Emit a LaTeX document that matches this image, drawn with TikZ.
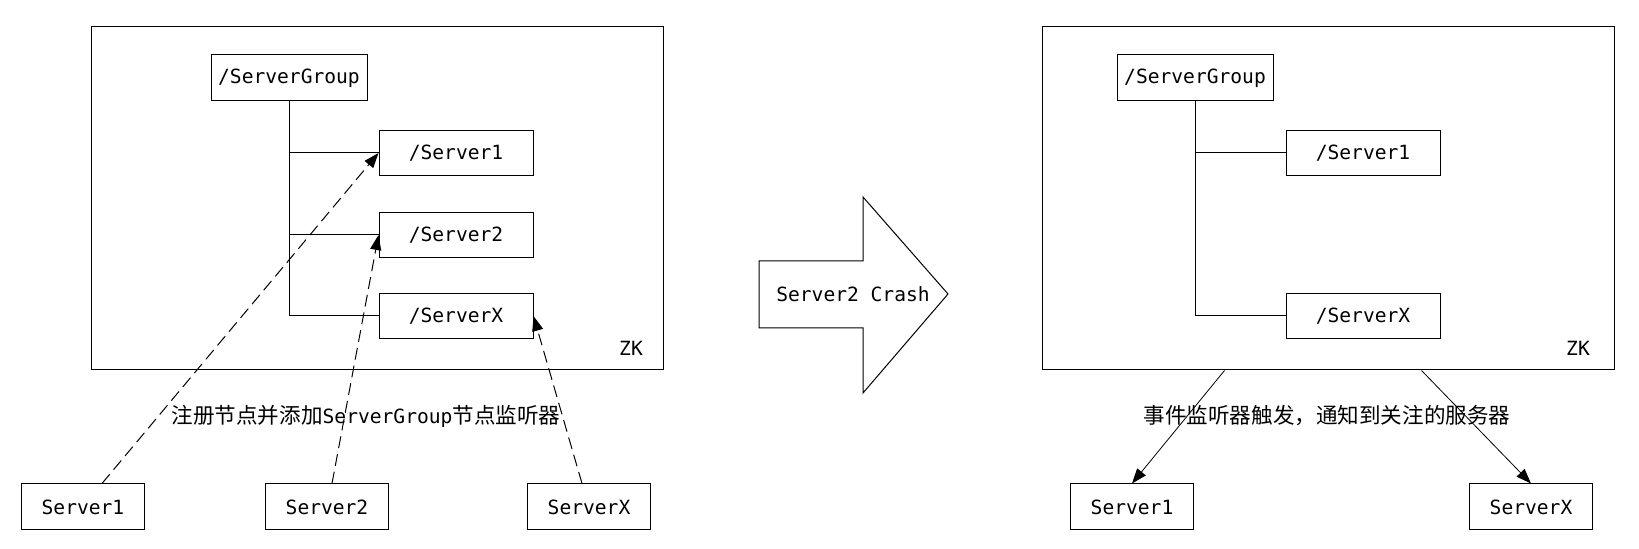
\documentclass[tikz,border=0pt]{standalone}
\usepackage{fontspec}
\setmonofont{DejaVu Sans Mono}
\newfontfamily\cjk{Noto Sans CJK SC}[Scale=1.1]
\usetikzlibrary{arrows.meta}
\usetikzlibrary{positioning}
\tikzset{zkbox/.style = {draw, line width=0.5pt, minimum width=286pt, minimum height=171.5pt},
         groupbox/.style = {draw, line width=0.5pt, minimum width=78pt, minimum height=23pt},
         znodebox/.style = {draw, line width=0.5pt, minimum width=77pt, minimum height=22.5pt},
         serverbox/.style = {draw, line width=0.5pt, minimum width=61.5pt, minimum height=23pt},
         tree/.style = {line width=0.5pt},
         regarrow/.style = {-{Triangle[length=7.5pt,width=5.5pt]}, line width=0.5pt, dash pattern=on 6pt off 3pt},
         notifyarrow/.style = {-{Triangle[length=7.5pt,width=5.5pt]}, line width=0.4pt}}

\begin{document}
\begin{tikzpicture}[x=0.5pt, y=-0.5pt, font=\ttfamily\fontsize{9.8pt}{12pt}\selectfont]
    \useasboundingbox (0,0) rectangle (1639,549);

    % before
    \node[zkbox] (zk1) at (377,198.5) {};
    \node (zk1l) at (631,348) {ZK};
    \node[groupbox] (sg1) at (289,78) {/ServerGroup};
    \node[znodebox] (zs11) at (456,153) {/Server1};
    \node[znodebox] (zs12) at (456,235) {/Server2};
    \node[znodebox] (zs1x) at (456,316) {/ServerX};
    \draw[tree] (sg1.south) |- (zs1x.west);
    \draw[tree] (sg1.south |- zs11.west) -- (zs11.west);
    \draw[tree] (sg1.south |- zs12.west) -- (zs12.west);

    \node[serverbox] (c11) at (83,507) {Server1};
    \node[serverbox] (c12) at (327,507) {Server2};
    \node[serverbox] (c1x) at (589,507) {ServerX};
    \node (lab1) at (366,416) {{\cjk 注册节点并添加}ServerGroup{\cjk 节点监听器}};
    \draw[regarrow] ([xshift=9.5pt]c11.north) -- (zs11.west);
    \draw[regarrow] ([xshift=2.5pt]c12.north) -- (zs12.west);
    \draw[regarrow] ([xshift=-3.5pt]c1x.north) -- (zs1x.east);

    % crash
    \draw[line width=0.5pt] (759,261) -- (863,261) -- (863,197) -- (948,294) -- (863,393)
        -- (863,328) -- (759,328) -- cycle;
    \node (crash) at (853,294) {Server2 Crash};

    % after
    \node[zkbox] (zk2) at (1328,198.5) {};
    \node (zk2l) at (1578,348) {ZK};
    \node[groupbox] (sg2) at (1195,78) {/ServerGroup};
    \node[znodebox] (zs21) at (1363,153) {/Server1};
    \node[znodebox] (zs2x) at (1363,316) {/ServerX};
    \draw[tree] (sg2.south) |- (zs2x.west);
    \draw[tree] (sg2.south |- zs21.west) -- (zs21.west);

    \node[serverbox] (c21) at (1132,507) {Server1};
    \node[serverbox] (c2x) at (1531,507) {ServerX};
    \node (lab2) at (1327,416) {\cjk 事件监听器触发，通知到关注的服务器};
    \draw[notifyarrow] ([xshift=91.5pt]zk2.south west) -- (c21.north);
    \draw[notifyarrow] ([xshift=190pt]zk2.south west) -- (c2x.north);
\end{tikzpicture}
\end{document}
